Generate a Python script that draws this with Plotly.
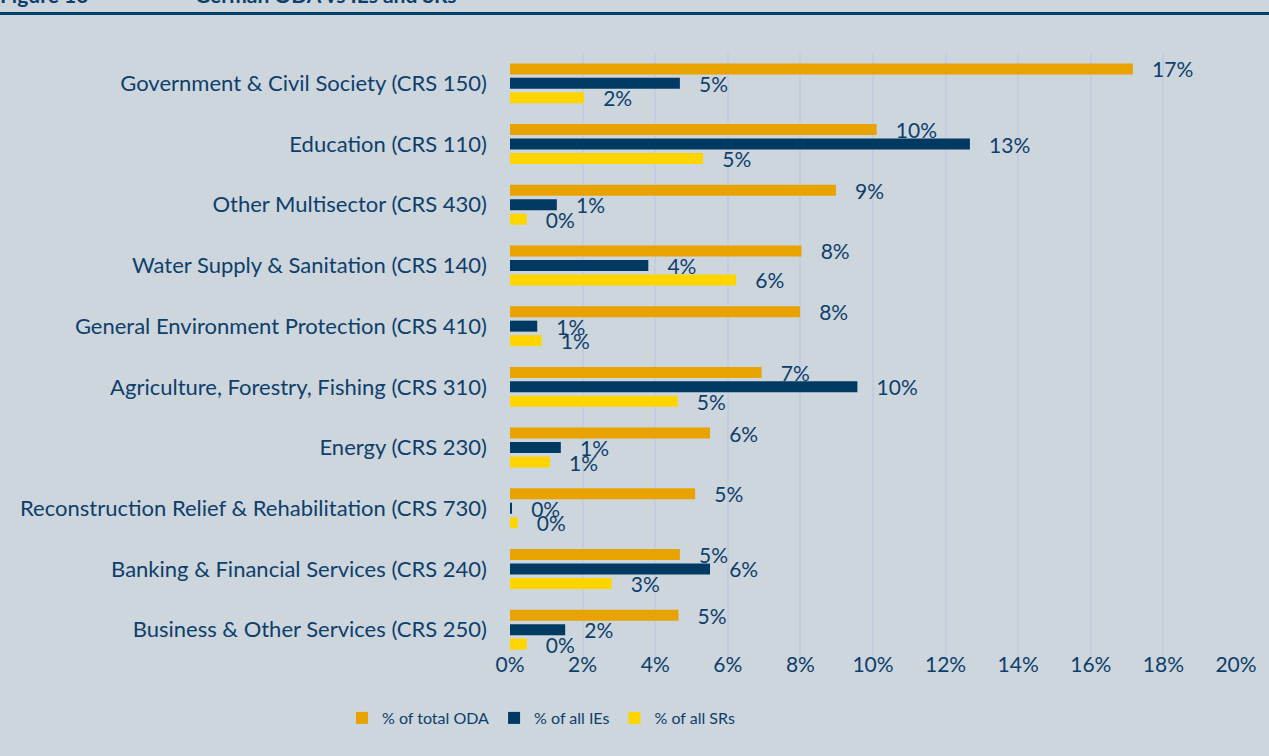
"""German ODA vs IEs and SRs by sector - horizontal grouped bars (plotly)."""
import plotly.graph_objects as go

W, H = 1269, 756
FONT = "Lato, sans-serif"
NAVY = "#0E3F6B"
BG = "#CDD5DD"

sectors = [
    "Government & Civil Society (CRS 150)",
    "Education (CRS 110)",
    "Other Multisector (CRS 430)",
    "Water Supply & Sanitation (CRS 140)",
    "General Environment Protection (CRS 410)",
    "Agriculture, Forestry, Fishing (CRS 310)",
    "Energy (CRS 230)",
    "Reconstruction Relief & Rehabilitation (CRS 730)",
    "Banking & Financial Services (CRS 240)",
    "Business & Other Services (CRS 250)",
]
oda_share = [0.1716, 0.1010, 0.0898, 0.0803, 0.0799, 0.0693, 0.0551, 0.0510, 0.0468, 0.0464]
ie_share = [0.0468, 0.1267, 0.0129, 0.0381, 0.0075, 0.0957, 0.0140, 0.0005, 0.0551, 0.0152]
sr_share = [0.0204, 0.0532, 0.0046, 0.0623, 0.0087, 0.0462, 0.0110, 0.0021, 0.0280, 0.0046]

series = [
    ("% of total ODA", oda_share, "#E8A300"),
    ("% of all IEs", ie_share, "#003A63"),
    ("% of all SRs", sr_share, "#FFD500"),
]

# plot area in pixels
L, R, T, B = 510, 33, 53, 96
plot_h = H - T - B


def ypaper(px):
    """page pixel row -> paper y"""
    return (H - B - px) / plot_h


def xpaper(px):
    return (px - L) / (W - L - R)


fig = go.Figure()
for name, vals, col in series:
    fig.add_trace(go.Bar(
        y=sectors, x=vals, orientation="h", name=name,
        marker=dict(color=col, line=dict(width=0)),
        text=[f"\u00a0\u00a0\u00a0{v:.0%}" for v in vals],
        textposition="outside", constraintext="none", cliponaxis=False,
        textfont=dict(family=FONT, size=21, color=NAVY),
    ))

fig.update_layout(
    width=W, height=H,
    paper_bgcolor=BG, plot_bgcolor=BG,
    margin=dict(l=L, r=R, t=T, b=B),
    barmode="group", bargap=0.285, bargroupgap=0.24,
    font=dict(family=FONT, color=NAVY, size=19),
    xaxis=dict(
        range=[0, 0.2], dtick=0.02, tickformat=".0%",
        showgrid=True, gridcolor="#C2CEE0", gridwidth=1.5,
        zeroline=False, showline=False, ticks="",
        ticklabelstandoff=-10,
        tickfont=dict(size=21, color=NAVY),
    ),
    yaxis=dict(
        autorange="reversed", showgrid=False, ticks="",
        ticklabelstandoff=22, tickfont=dict(size=22, color=NAVY),
    ),
    legend=dict(
        orientation="h", x=xpaper(541), xanchor="center",
        y=ypaper(718), yanchor="middle", itemwidth=30,
        font=dict(size=16, color=NAVY), bgcolor="rgba(0,0,0,0)",
        traceorder="normal",
    ),
    showlegend=True,
)

# header strip: clipped figure title and rule line
fig.add_shape(type="line", xref="paper", yref="paper",
              x0=xpaper(-5), x1=xpaper(W + 5), y0=ypaper(13.5), y1=ypaper(13.5),
              line=dict(color="#00416B", width=3))
for txt, px in [("Figure 16", -2), ("German ODA vs IEs and SRs", 193)]:
    fig.add_annotation(text=f"<b>{txt}</b>", xref="paper", yref="paper",
                       x=xpaper(px), y=ypaper(9), xanchor="left", yanchor="bottom",
                       showarrow=False, font=dict(family=FONT, size=21, color=NAVY))

# full-bleed page, like the reference screenshot
fig.write_html("out.html", config={"displayModeBar": False},
               post_script="document.body.style.margin='0px';")
